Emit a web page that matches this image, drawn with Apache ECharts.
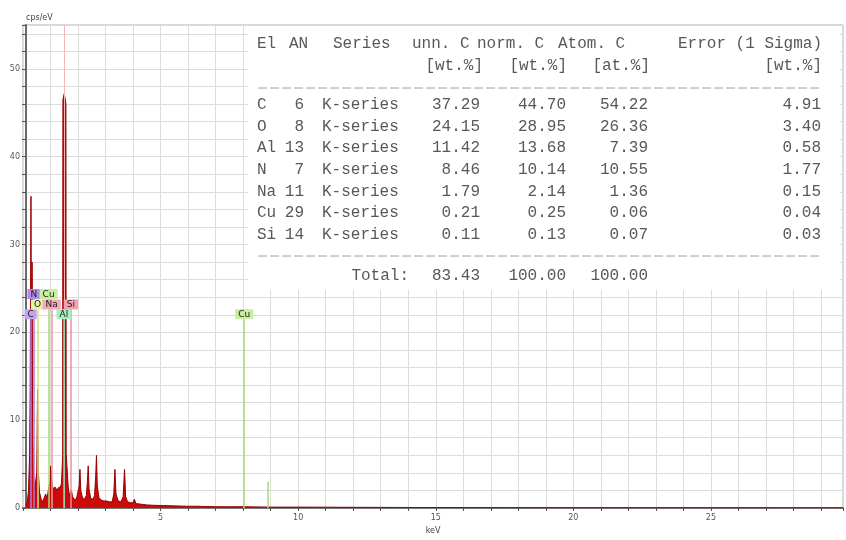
<!DOCTYPE html>
<html>
<head>
<meta charset="utf-8">
<script src="https://cdn.jsdelivr.net/npm/echarts@6/dist/echarts.min.js"></script>
<style>
  html, body { margin: 0; padding: 0; background: #ffffff; }
  #chart { width: 846px; height: 540px; }
</style>
</head>
<body>
<div id="chart"></div>
<script>
// EDS spectrum: photon energy (keV) and intensity (cps/eV)
const energy = [
  0.10, 0.16, 0.20, 0.24, 0.26, 0.29, 0.31, 0.33, 0.35, 0.38,
  0.42, 0.46, 0.50, 0.53, 0.56, 0.60, 0.66, 0.72, 0.78, 0.82,
  0.86, 0.90, 0.94, 0.98, 1.01, 1.04, 1.08, 1.12, 1.16, 1.20,
  1.24, 1.28, 1.32, 1.36, 1.40, 1.44, 1.45, 1.50, 1.56, 1.57,
  1.61, 1.64, 1.68, 1.72, 1.76, 1.80, 1.86, 1.94, 2.00, 2.04,
  2.07, 2.10, 2.16, 2.24, 2.30, 2.34, 2.37, 2.40, 2.46, 2.54,
  2.60, 2.64, 2.67, 2.70, 2.76, 2.84, 2.94, 3.04, 3.14, 3.24,
  3.30, 3.34, 3.38, 3.46, 3.56, 3.64, 3.69, 3.73, 3.80, 3.90,
  4.00, 4.05, 4.10, 4.25, 4.50, 4.80, 5.10, 5.40, 5.70, 6.00,
  6.35, 6.42, 6.50, 7.00, 7.50, 8.00, 8.05, 8.10, 8.60, 9.00,
  10.0, 11.0, 12.0, 13.0, 14.0, 15.0, 17.5, 20.0, 22.5, 25.0, 27.5, 29.8
];
const counts = [
  0.2, 0.8, 2.0, 6.0, 13.0, 35.5, 12.0, 28.0, 9.0, 4.0,
  2.0, 2.2, 4.0, 13.5, 4.0, 1.8, 1.0, 0.7, 0.8, 1.6,
  1.2, 1.6, 2.4, 3.0, 4.8, 3.2, 2.4, 2.0, 2.4, 2.2,
  2.0, 2.3, 2.1, 2.4, 2.8, 6.0, 46.5, 47.2, 46.0, 6.2,
  6.0, 2.5, 1.5, 1.6, 2.0, 1.3, 1.0, 1.0, 1.2, 2.5,
  4.4, 2.0, 1.2, 1.0, 1.4, 3.0, 4.8, 2.2, 1.1, 1.0,
  1.4, 3.5, 6.0, 2.5, 1.2, 0.9, 0.8, 0.8, 0.7, 0.7,
  1.6, 4.4, 1.6, 0.8, 0.7, 1.3, 4.4, 1.3, 0.7, 0.6,
  0.6, 1.0, 0.5, 0.45, 0.35, 0.3, 0.28, 0.25, 0.22, 0.2,
  0.2, 0.35, 0.18, 0.15, 0.14, 0.15, 0.3, 0.14, 0.12, 0.1,
  0.1, 0.09, 0.08, 0.07, 0.06, 0.05, 0.04, 0.03, 0.03, 0.02, 0.02, 0.02
];

// Identified element lines: symbol, energy (keV) and the height where the tag sits
const lineSymbols  = ['C', 'N', 'O', 'Cu', 'Na', 'Al', 'Si', 'Cu'];
const lineEnergies = [0.277, 0.392, 0.525, 0.930, 1.041, 1.486, 1.740, 8.040];
const lineTagLevel = [21.5, 23.8, 22.6, 23.8, 22.6, 21.5, 22.6, 21.5];
const lineColors   = ['#b27ce6', '#a874e2', '#d6e27a', '#a6dc72', '#ee98ae', '#7cd8a0', '#ee8e9e', '#a6dc72'];
const tagColors    = ['#c6a2f2', '#b48cec', '#e8f2a6', '#c6ee9c', '#f4aabb', '#a6eec0', '#f4a2ae', '#c6ee9c'];
// Cu K-beta line (no tag)
const cuBetaEnergy = 8.905;
const cuBetaLevel  = 3.0;

// Quantification table
const tableSymbols = ['C', 'O', 'Al', 'N', 'Na', 'Cu', 'Si'];
const atomicNumbers = [6, 8, 13, 7, 11, 29, 14];
const lineSeries = ['K-series', 'K-series', 'K-series', 'K-series', 'K-series', 'K-series', 'K-series'];
const unnormC = [37.29, 24.15, 11.42, 8.46, 1.79, 0.21, 0.11];
const normC   = [44.70, 28.95, 13.68, 10.14, 2.14, 0.25, 0.13];
const atomC   = [54.22, 26.36, 7.39, 10.55, 1.36, 0.06, 0.07];
const sigmaErr = [4.91, 3.40, 0.58, 1.77, 0.15, 0.04, 0.03];
const totals  = [83.43, 100.00, 100.00];

const xTickLabels = [5, 10, 15, 20, 25];
const yTickLabels = [0, 10, 20, 30, 40, 50];

const chart = echarts.init(document.getElementById('chart'));

const spectrum = energy.map((e, i) => [e, counts[i]]);

const markData = lineSymbols.map((s, i) => [
  {
    coord: [lineEnergies[i], 0], name: s,
    lineStyle: { color: lineColors[i] },
    label: { backgroundColor: tagColors[i] }
  },
  { coord: [lineEnergies[i], lineTagLevel[i]] }
]);
markData.push([
  { coord: [cuBetaEnergy, 0], name: '', lineStyle: { color: lineColors[3] }, label: { show: false } },
  { coord: [cuBetaEnergy, cuBetaLevel] }
]);

// Quantification table drawn as text over a white panel
const mono = '"Liberation Mono", "DejaVu Sans Mono", monospace';
const txtColor = '#585858';
const fs = 16;
const rowY0 = 105, rowStep = 21.6;
const tableGraphics = [];
function addText(x, y, text, align) {
  tableGraphics.push({
    type: 'text', x: x, y: y, z: 101,
    style: { text: text, font: `${fs}px ${mono}`, fill: txtColor, align: align || 'left', verticalAlign: 'middle' }
  });
}
tableGraphics.push({ type: 'rect', z: 100, shape: { x: 248, y: 26, width: 592, height: 264 }, style: { fill: '#ffffff' } });
addText(257, 44, 'El');
addText(289, 44, 'AN');
addText(333, 44, 'Series');
addText(412, 44, 'unn. C');
addText(477, 44, 'norm. C');
addText(558, 44, 'Atom. C');
addText(822, 44, 'Error (1 Sigma)', 'right');
addText(483, 66, '[wt.%]', 'right');
addText(567, 66, '[wt.%]', 'right');
addText(650, 66, '[at.%]', 'right');
addText(822, 66, '[wt.%]', 'right');
[88, 256].forEach(y => tableGraphics.push({
  type: 'line', z: 101,
  shape: { x1: 258, y1: y, x2: 822, y2: y },
  style: { stroke: '#a0a0a0', lineWidth: 1, lineDash: [9, 3] }
}));
tableSymbols.forEach((s, i) => {
  const y = rowY0 + i * rowStep;
  addText(257, y, s);
  addText(304, y, String(atomicNumbers[i]), 'right');
  addText(322, y, lineSeries[i]);
  addText(480, y, unnormC[i].toFixed(2), 'right');
  addText(566, y, normC[i].toFixed(2), 'right');
  addText(648, y, atomC[i].toFixed(2), 'right');
  addText(821, y, sigmaErr[i].toFixed(2), 'right');
});
addText(409, 276, 'Total:', 'right');
addText(480, 276, totals[0].toFixed(2), 'right');
addText(566, 276, totals[1].toFixed(2), 'right');
addText(648, 276, totals[2].toFixed(2), 'right');

const option = {
  animation: false,
  backgroundColor: '#ffffff',
  grid: { left: 23, right: 0, top: 25, bottom: 23, show: true, borderColor: '#b0b0b0', borderWidth: 1 },
  xAxis: {
    type: 'value', min: 0, max: 29.8, interval: 1,
    name: 'keV', nameLocation: 'middle', nameGap: 19,
    nameTextStyle: { fontSize: 8, color: '#444', fontFamily: 'DejaVu Sans' },
    axisLine: { show: true, lineStyle: { color: '#7a7a7a', width: 2 } },
    axisTick: { show: true, length: 3, lineStyle: { color: '#555' } },
    axisLabel: {
      fontSize: 8, color: '#555', margin: 6, fontFamily: 'DejaVu Sans',
      formatter: v => {
        const r = Math.round(v);
        return (Math.abs(v - r) < 1e-6 && xTickLabels.indexOf(r) >= 0) ? String(r) : '';
      }
    },
    splitLine: { show: true, lineStyle: { color: '#dcdcdc', width: 1 } }
  },
  yAxis: {
    type: 'value', min: 0, max: 55, interval: 2, offset: -3,
    name: 'cps/eV', nameLocation: 'end', nameGap: 3,
    nameTextStyle: { fontSize: 8, color: '#444', align: 'left', fontFamily: 'DejaVu Sans' },
    axisLine: { show: true, lineStyle: { color: '#6a6a6a', width: 2 } },
    axisTick: { show: true, length: 4, lineStyle: { color: '#555' } },
    axisLabel: {
      fontSize: 8, color: '#555', margin: 6, fontFamily: 'DejaVu Sans',
      formatter: v => yTickLabels.indexOf(v) >= 0 ? String(v) : ''
    },
    splitLine: { show: true, lineStyle: { color: '#dcdcdc', width: 1 } }
  },
  graphic: tableGraphics,
  series: [
    {
      // faint cursor line through the Al peak
      type: 'line', z: 1, data: [], silent: true,
      markLine: {
        symbol: 'none', silent: true, animation: false,
        lineStyle: { color: '#f2b8b8', width: 1, type: 'solid' },
        label: { show: false },
        data: [[{ coord: [1.50, 0] }, { coord: [1.50, 55] }]]
      }
    },
    {
      type: 'line', z: 2, data: spectrum, symbol: 'none', smooth: false,
      lineStyle: { color: '#9a0000', width: 1 },
      areaStyle: { color: '#cc0a0a', opacity: 1 }
    },
    {
      type: 'line', z: 3, data: [], silent: true,
      markLine: {
        symbol: 'none', silent: true, animation: false,
        lineStyle: { width: 1.5, type: 'solid' },
        label: {
          show: true, position: 'end', distance: 0, formatter: p => p.name,
          fontSize: 9, color: '#222', padding: [1, 3, 0, 3], fontFamily: 'DejaVu Sans'
        },
        data: markData
      }
    }
  ]
};
chart.setOption(option);
</script>
</body>
</html>
